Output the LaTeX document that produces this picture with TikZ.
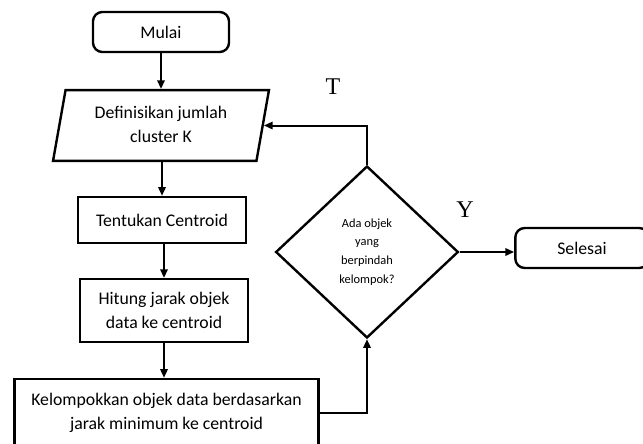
\documentclass[tikz,border=0pt]{standalone}
\usepackage{fontspec}
\setmainfont{Carlito}
\newfontfamily\timesfont{Liberation Serif}
\usetikzlibrary{shapes.geometric,arrows.meta}

\tikzset{
  kotak/.style={draw, line width=1.8pt, align=center, inner sep=0.75pt, font=\fontsize{13.3}{18}\selectfont},
  terminal/.style={kotak, rounded corners=7pt},
  panah/.style={line width=1.5pt, -{Triangle[length=6.5pt,width=5.5pt]}},
  label/.style={inner sep=0.75pt, font=\timesfont\fontsize{18}{20}\selectfont}
}

\begin{document}
\begin{tikzpicture}[x=0.75pt,y=0.75pt,yscale=-1,xscale=1]
\clip (0,0) rectangle (643,443);

% Terminal: mulai
\node [terminal, minimum width=102pt, minimum height=30pt] (mulai) at (161,32) {Mulai};
% Input: jumlah cluster
\node [kotak, trapezium, trapezium left angle=80, trapezium right angle=100, trapezium stretches=true, minimum width=162pt, minimum height=53pt] (defk) at (161,125.5) {\raisebox{-3pt}{\begin{tabular}{@{}c@{}}Definisikan jumlah\\cluster K\end{tabular}}};
% Proses
\node [kotak, minimum width=126pt, minimum height=34.5pt] (tentukan) at (162,220) {Tentukan Centroid};
\node [kotak, minimum width=126pt, minimum height=47pt] (hitung) at (164,310.5) {Hitung jarak objek\\data ke centroid};
\node [kotak, minimum width=228pt, minimum height=51pt] (kelompok) at (166.5,413) {Kelompokkan objek data berdasarkan\\jarak minimum ke centroid};
% Decision
\node [draw, diamond, line width=1.8pt, inner sep=0pt, minimum width=137pt, minimum height=129pt, align=center, font=\fontsize{9.3}{14}\selectfont] (cek) at (367,252) {Ada objek\\yang\\berpindah\\kelompok?};
% Terminal: selesai
\node [terminal, minimum width=100pt, minimum height=30pt] (selesai) at (582,248) {Selesai};

% Text Node
\node [label] (tlabel) at (333,87) {T};
% Text Node
\node [label] (ylabel) at (465,210) {Y};

\draw [panah] (mulai) -- (mulai |- defk.north);
\draw [panah] (defk.south -| tentukan) -- (tentukan);
\draw [panah] (tentukan.south -| hitung) -- (hitung);
\draw [panah] (hitung) -- (hitung |- kelompok.north);
\draw [panah] (kelompok.east) -| (cek.south);
\draw [panah] (cek.north) |- (defk.east);
\draw [panah] (cek.east) -- (cek.east -| selesai.west);

\end{tikzpicture}
\end{document}
